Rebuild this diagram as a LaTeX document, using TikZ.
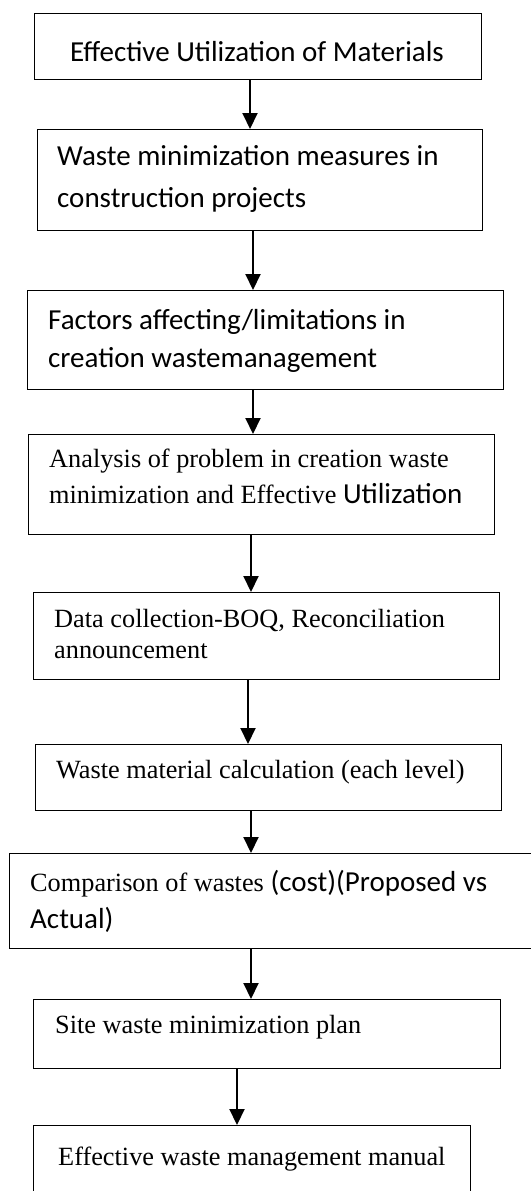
\documentclass[tikz,border=0pt]{standalone}
\usepackage{fontspec}
\setmainfont{Liberation Serif}
\newfontfamily\sansfnt{Carlito}
\usetikzlibrary{arrows.meta}
\newcommand{\sfsize}[1]{\sansfnt\fontsize{29}{#1}\selectfont}
\newcommand{\rmsize}[1]{\fontsize{26.3}{#1}\selectfont}
\tikzset{
  box/.style={draw, line width=1.3pt, anchor=north west, inner sep=0pt},
  lbl/.style={anchor=base west, inner sep=0pt, align=left},
  serif/.style={lbl, font=\rmsize{32}},
  sans/.style={lbl, font=\sfsize{38}},
  flow/.style={line width=2pt, -{Triangle[length=16pt,width=15pt]}}
}
\begin{document}
\begin{tikzpicture}[x=1pt,y=-1pt]
      \useasboundingbox (0,0) rectangle (530,1191);
      % boxes
      \node[box, minimum width=447pt, minimum height=66pt] (b1) at (34,13) {};
      \node[box, minimum width=445pt, minimum height=101pt] (b2) at (37,129) {};
      \node[box, minimum width=476pt, minimum height=99pt] (b3) at (27,290) {};
      \node[box, minimum width=466pt, minimum height=100pt] (b4) at (28,434) {};
      \node[box, minimum width=466pt, minimum height=87pt] (b5) at (33,592) {};
      \node[box, minimum width=466pt, minimum height=66pt] (b6) at (35,744) {};
      \node[box, minimum width=531pt, minimum height=95pt] (b7) at (9,853) {};
      \node[box, minimum width=467pt, minimum height=69pt] (b8) at (33,999) {};
      \node[box, minimum width=437pt, minimum height=90pt] (b9) at (33,1125) {};
      % texts (multi-line ones sit on their last baseline)
      \node[sans] (t1) at (70,61) {Effective Utilization of Materials};
      \node[sans, font=\sfsize{42}] (t2) at (57,207) {Waste minimization measures in\\construction projects};
      \node[sans] (t3) at (48,367) {Factors affecting/limitations in\\creation wastemanagement};
      \node[serif, font=\rmsize{36}] (t4) at (49,503) {Analysis of problem in creation waste\\minimization and Effective {\sfsize{36}Utilization}};
      \node[serif, font=\rmsize{31}] (t5) at (54,658) {Data collection-BOQ, Reconciliation\\announcement};
      \node[serif] (t6) at (56,778) {Waste material calculation (each level)};
      \node[serif, font=\rmsize{37}] (t7) at (30,928) {Comparison of wastes {\sfsize{37}(cost)(Proposed vs}\\{\sfsize{37}Actual)}};
      \node[serif] (t8) at (55,1033) {Site waste minimization plan};
      \node[serif] (t9) at (58,1165) {Effective waste management manual};
      % arrows
      \draw[flow] (b1.south -| 250,0) -- (b2.north -| 250,0);
      \draw[flow] (b2.south -| 253,0) -- (b3.north -| 253,0);
      \draw[flow] (b3.south -| 253,0) -- (b4.north -| 253,0);
      \draw[flow] (b4.south -| 251,0) -- (b5.north -| 251,0);
      \draw[flow] (b5.south -| 248,0) -- (b6.north -| 248,0);
      \draw[flow] (b6.south -| 251,0) -- (b7.north -| 251,0);
      \draw[flow] (b7.south -| 251,0) -- (b8.north -| 251,0);
      \draw[flow] (b8.south -| 237,0) -- (b9.north -| 237,0);
\end{tikzpicture}
\end{document}
